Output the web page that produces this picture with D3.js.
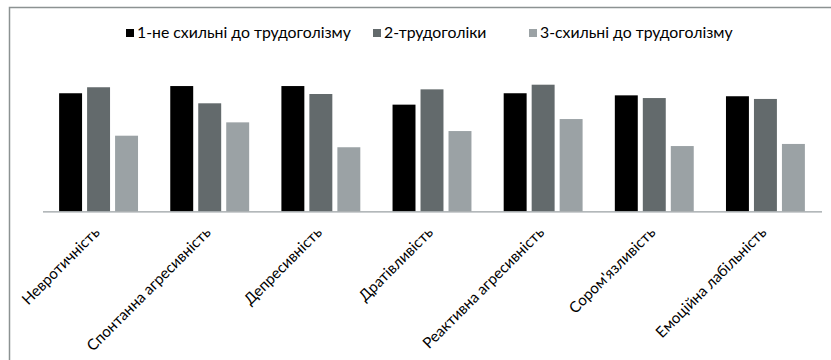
<!DOCTYPE html>
<html>
<head>
<meta charset="utf-8">
<script src="https://cdn.jsdelivr.net/npm/d3@7"></script>
<style>
  html, body { margin: 0; padding: 0; background: #fff; }
  svg text { font-family: Lato, "Open Sans", sans-serif; fill: #000; }
</style>
</head>
<body>
<svg id="chart" width="831" height="360"></svg>
<script>
// Personality scale scores by workaholism group
const categories = [
  "Невротичність",
  "Спонтанна агресивність",
  "Депресивність",
  "Дратівливість",
  "Реактивна агресивність",
  "Сором'язливість",
  "Емоційна лабільність"
];
const seriesNames = [
  "1-не схильні до трудоголізму",
  "2-трудоголіки",
  "3-схильні до трудоголізму"
];
const notProne   = [7.87, 8.35, 8.35, 7.11, 7.87, 7.73, 7.67];
const workaholic = [8.27, 7.20, 7.82, 8.13, 8.44, 7.55, 7.49];
const prone      = [5.04, 5.93, 4.27, 5.35, 6.15, 4.35, 4.49];
const seriesValues = [notProne, workaholic, prone];
const colors = ["#000000", "#636a6c", "#9ba2a5"];

const svg = d3.select("#chart");

// chart frame (only left and top edges fall inside the view)
svg.append("rect")
  .attr("x", 9.5).attr("y", 7.5)
  .attr("width", 900).attr("height", 500)
  .attr("fill", "none")
  .attr("stroke", "#8c9292")
  .attr("stroke-width", 1.5);

const baseline = 211.3;
const x0 = d3.scaleBand().domain(categories).range([43, 821]).paddingInner(0.29).paddingOuter(0.145);
const x1 = d3.scaleBand().domain(d3.range(3)).range([0, x0.bandwidth()]).paddingInner(0.18);
const y = d3.scaleLinear().domain([0, 10]).range([baseline, 61.3]);

const groups = svg.append("g").selectAll("g")
  .data(categories)
  .join("g")
  .attr("transform", d => `translate(${x0(d)},0)`);

groups.selectAll("rect")
  .data((d, i) => seriesValues.map((vals, s) => ({ s, v: vals[i] })))
  .join("rect")
  .attr("x", d => x1(d.s))
  .attr("width", x1.bandwidth())
  .attr("y", d => y(d.v))
  .attr("height", d => y(0) - y(d.v))
  .attr("fill", d => colors[d.s]);

// category axis
const xAxis = d3.axisBottom(x0).tickSize(0).tickPadding(0);
const axisG = svg.append("g")
  .attr("transform", `translate(0,${baseline})`)
  .call(xAxis);
axisG.select(".domain").attr("stroke", "#9aa0a3").attr("stroke-width", 1.3)
  .attr("d", `M43,0.5H822`);
axisG.selectAll(".tick text")
  .attr("font-size", 15.2)
  .attr("text-anchor", "end")
  .attr("dy", null)
  .attr("y", 0)
  .attr("transform", "translate(2,22) rotate(-45)");

// legend
const legendX = [126, 373, 529];
const legend = svg.append("g").selectAll("g")
  .data(seriesNames)
  .join("g")
  .attr("transform", (d, i) => `translate(${legendX[i]},29)`);
legend.append("rect")
  .attr("width", 8).attr("height", 8)
  .attr("fill", (d, i) => colors[i]);
legend.append("text")
  .attr("x", 11).attr("y", 9)
  .attr("font-size", 15.8)
  .text(d => d);
</script>
</body>
</html>
